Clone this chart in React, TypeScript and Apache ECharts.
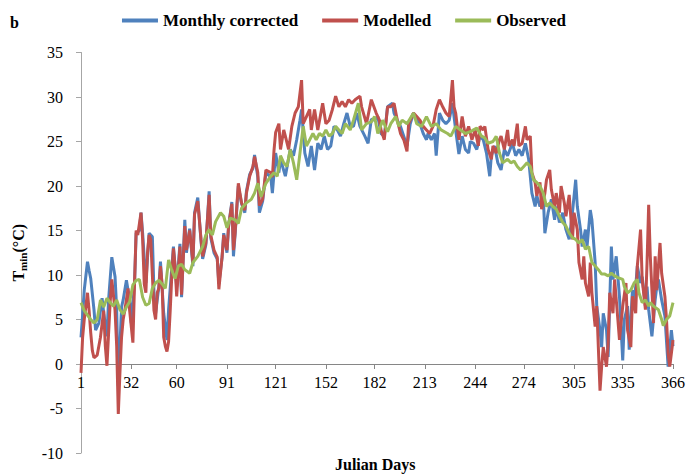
import React, { useEffect, useRef } from "react";
import * as echarts from "echarts";

const monthTicks = [1, 32, 60, 91, 121, 152, 182, 213, 244, 274, 305, 335, 366];
const yTicks = { min: -10, max: 35, step: 5 };
const seriesNames = ["Monthly corrected", "Modelled", "Observed"];
const seriesColors = ["#4F81BD", "#C0504D", "#9BBB59"];

const monthlyCorrected: [number, number][] = [
  [1, 3], [2, 5.5], [3, 8.3], [5, 11.5], [6, 10.5], [7, 9.6], [9, 6.1], [10, 3.8], [12, 4.6], [14, 7.4],
  [15, 5.7], [17, 3.1], [18, 7.2], [20, 12], [22, 9.8], [23, 6.1], [24, -2.5], [26, 6.4], [27, 7.2], [29, 9.4],
  [31, 7.2], [32, 4.6], [34, 9], [35, 14.7], [37, 15], [38, 17], [39, 14.7], [41, 9.1], [43, 14.7], [45, 14.3],
  [46, 8], [47, 5.7], [49, 8.7], [50, 11.5], [52, 5.7], [54, 2.7], [55, 6.1], [57, 10.9], [58, 13.2], [60, 8.7],
  [62, 13.5], [63, 7.5], [65, 16.2], [66, 12.5], [68, 15.2], [70, 11], [71, 17], [73, 18.7], [75, 13.8], [76, 11.8],
  [78, 13.4], [80, 19.4], [81, 14.2], [83, 12.5], [85, 11.8], [86, 9], [88, 12], [89, 14.7], [91, 12.5], [92, 15.5],
  [94, 18.2], [95, 12.1], [96, 14.5], [98, 20], [100, 18], [102, 17], [103, 19.4], [105, 21.3], [107, 22], [108, 23.5],
  [110, 21], [111, 17], [113, 18.3], [115, 21.5], [118, 21], [119, 19.2], [121, 23.7], [123, 21.5], [124, 23], [127, 21.1],
  [130, 24.1], [132, 23.4], [134, 25.2], [136, 27.4], [137, 28.6], [139, 23.7], [141, 22.2], [143, 24.5], [145, 21.8], [147, 24.8],
  [149, 24.1], [151, 25.6], [153, 24.1], [155, 24.5], [157, 26.7], [159, 26.3], [161, 25.6], [163, 27], [165, 28.2], [167, 26.7],
  [169, 26.7], [171, 28.2], [173, 26.7], [176, 25.6], [178, 24.8], [180, 27.5], [182, 27.4], [184, 27.8], [186, 25.9], [188, 25.6],
  [190, 28.9], [193, 29.3], [194, 28.2], [196, 27.4], [198, 26.7], [200, 25.6], [202, 24.5], [204, 27], [206, 28.2], [208, 27.4],
  [210, 27], [212, 25.9], [214, 25.2], [215, 25.9], [217, 25.2], [219, 25.9], [220, 23.4], [222, 28.2], [224, 27.4], [226, 27],
  [228, 27.4], [230, 29.3], [232, 26.3], [234, 23.6], [236, 25.6], [238, 24.1], [240, 23.7], [241, 25], [243, 24.8], [245, 24.1],
  [247, 25.6], [249, 25.2], [251, 23.7], [253, 21.1], [254, 23.4], [256, 24.5], [258, 22.6], [260, 21.8], [262, 24.1], [264, 23.4],
  [267, 24.8], [269, 23.4], [271, 24.1], [273, 23.4], [275, 24.8], [277, 23], [279, 19.2], [281, 17.7], [282, 18.9], [284, 17.7],
  [286, 18.9], [287, 14.7], [289, 17], [291, 18.5], [293, 16.2], [294, 17.7], [296, 15.9], [298, 17], [300, 15.1], [302, 14],
  [303, 15.5], [304, 17], [306, 20.7], [307, 17.7], [309, 15.1], [310, 13.2], [312, 15.1], [313, 13.2], [315, 17.3], [316, 16.2],
  [318, 11.4], [319, 6.5], [321, 3.8], [322, 1.9], [323, 5.7], [325, 3.8], [326, 0.8], [328, 13.2], [329, 9.5], [331, 12.1],
  [333, 7.6], [335, 0.4], [336, 5], [338, 6.5], [339, 1.6], [341, 8.3], [342, 7.2], [343, 8.7], [344, 11], [346, 9.1],
  [347, 9.8], [349, 6.5], [350, 8.7], [351, 6.1], [353, 3.1], [355, 7.2], [356, 8.7], [357, 9.5], [359, 7.2], [361, 5.4],
  [363, -0.3], [365, 3.8], [366, 2],
];

const modelled: [number, number][] = [
  [1, -1], [2, 3], [3, 5], [5, 8], [6, 6], [7, 3.5], [8, 1.5], [9, 0.7], [11, 1], [13, 3],
  [15, 6], [16, 2], [17, -0.2], [19, 7], [20, 9.5], [22, 6], [23, 2], [24, -5.6], [25, -1], [26, 3],
  [27, 5], [28, 6], [30, 8.5], [31, 6], [33, 2.4], [34, 9], [35, 15], [36, 14.5], [38, 17], [39, 14],
  [40, 9], [41, 8], [42, 12.5], [43, 14.5], [44, 14], [45, 10], [46, 6], [47, 5], [48, 8], [49, 8.5],
  [50, 11], [51, 9], [52, 3], [53, 2], [54, 1.4], [55, 2.5], [56, 6], [57, 10], [58, 13], [59, 11],
  [60, 7.6], [62, 13.2], [63, 7.8], [65, 15.5], [66, 12.8], [68, 15], [70, 11.4], [71, 16.8], [73, 18.3], [75, 14],
  [76, 12.1], [78, 13.6], [80, 19], [81, 14.5], [83, 12.8], [85, 12], [86, 8.4], [88, 12.1], [89, 14.5], [91, 12.8],
  [92, 15.5], [94, 18], [95, 12.8], [96, 14.7], [98, 20.3], [100, 18.1], [102, 17.3], [103, 19.2], [105, 21.1], [107, 22.2],
  [108, 23.3], [110, 21.5], [111, 17.8], [113, 18.5], [115, 21.8], [118, 21.5], [119, 21], [120, 24], [121, 26], [123, 27],
  [124, 24.1], [126, 26.3], [127, 25.6], [129, 24.1], [131, 26.7], [133, 28.2], [135, 28.9], [137, 31.9], [138, 27], [140, 27.8],
  [142, 28.6], [143, 26.3], [145, 28.6], [147, 26.3], [150, 29.3], [152, 27], [154, 27.4], [156, 28.6], [158, 30.1], [160, 28.9],
  [162, 29.5], [164, 28.9], [166, 29.7], [168, 29.3], [170, 29.7], [173, 30.1], [174, 28.9], [177, 27], [180, 29.7], [183, 28.2],
  [185, 27.4], [186, 26.3], [188, 25.2], [190, 28.9], [192, 28.9], [194, 29.3], [196, 27.4], [198, 25.9], [200, 25.2], [202, 23.9],
  [203, 27], [206, 28.2], [208, 27.8], [210, 27.4], [212, 26.7], [214, 26.3], [216, 25.9], [218, 26.7], [220, 28.6], [222, 29.7],
  [224, 28.9], [226, 28.2], [228, 27.8], [230, 31.9], [231, 28.9], [232, 28.2], [234, 25.2], [236, 27.8], [238, 25.6], [240, 26.7],
  [242, 25.2], [244, 26.3], [246, 24.5], [247, 26.7], [249, 26.3], [250, 26.7], [252, 24.1], [254, 23], [255, 24.5], [257, 23.7],
  [259, 25.2], [260, 25.6], [262, 24.1], [264, 26.3], [265, 24.5], [267, 25.2], [268, 24.5], [270, 27], [271, 24.5], [273, 24.8],
  [275, 26.7], [276, 25.2], [278, 25.6], [279, 21.5], [281, 20.4], [282, 18.9], [284, 20.4], [285, 17.4], [287, 19.2], [288, 20.7],
  [290, 21.8], [291, 19.6], [293, 17.7], [294, 19.2], [296, 17], [297, 20], [299, 18.1], [300, 16.6], [302, 19], [304, 14],
  [305, 17], [307, 15.1], [308, 11.4], [310, 9.5], [311, 12.1], [312, 9.1], [314, 7.6], [315, 11.4], [316, 8], [318, 4.2],
  [319, 6.5], [321, -3], [322, -0.3], [323, 1.9], [325, -0.3], [326, 2.3], [327, 8], [329, 5.7], [330, 9.5], [332, 5],
  [333, 2.7], [335, 6.5], [337, 9.1], [338, 3.8], [340, 1.9], [341, 7.6], [343, 5.7], [344, 11], [346, 15.1], [347, 9.5],
  [349, 6.1], [350, 11.4], [351, 17.9], [352, 12.1], [353, 8.3], [354, 4.6], [355, 12.1], [356, 8.3], [358, 13.6], [359, 10.2],
  [361, 7.6], [362, 5], [363, 1.2], [364, -0.3], [366, 2.7],
];

const observed: [number, number][] = [
  [1, 6.9], [3, 6], [5, 5.5], [7, 5], [9, 4.6], [11, 5], [13, 7.2], [15, 6.4], [17, 7.4], [19, 6.9],
  [21, 6.5], [23, 7.2], [25, 6.1], [27, 5.6], [29, 6.4], [31, 7], [33, 8.9], [35, 9.4], [37, 9.5], [39, 7.5],
  [41, 6.6], [43, 6.8], [45, 8.5], [47, 9.1], [49, 9.4], [51, 9], [53, 8.5], [55, 11.7], [57, 10.5], [59, 9.6],
  [61, 11], [63, 11.2], [65, 10.6], [68, 10.2], [70, 11.4], [73, 12.1], [76, 13.2], [78, 14.5], [80, 15.1], [82, 14.5],
  [84, 16], [87, 17], [89, 16.6], [91, 15.3], [93, 16.4], [96, 16.2], [98, 15.8], [100, 17.5], [103, 18.1], [106, 18.5],
  [108, 19.2], [110, 20.3], [112, 18.8], [115, 20.3], [118, 21.1], [120, 21.5], [122, 21.1], [124, 23.4], [126, 22.6], [128, 22.2],
  [130, 24.1], [132, 22.6], [134, 20.7], [136, 23.7], [138, 26.7], [140, 24.5], [142, 25.2], [144, 25.9], [146, 25.2], [148, 25.9],
  [150, 25.6], [152, 26.3], [154, 25.6], [156, 25.9], [158, 26.7], [160, 26.3], [162, 25.9], [164, 27], [167, 26.3], [169, 27.4],
  [172, 29.3], [174, 26.3], [177, 27], [180, 27.2], [182, 27.8], [184, 25.9], [187, 27.4], [190, 26.1], [192, 27], [195, 27.8],
  [197, 26.7], [199, 27.4], [202, 27], [206, 28.2], [208, 27], [211, 26.7], [214, 27.8], [217, 26.7], [220, 27], [223, 26.3],
  [227, 25.9], [229, 25.6], [232, 26.7], [235, 26.3], [238, 25.9], [241, 26.1], [243, 26.3], [245, 26.5], [248, 25.6], [250, 25.4],
  [252, 24.8], [255, 25], [257, 25.6], [259, 23.7], [261, 22.6], [264, 23], [266, 22.6], [268, 22.8], [270, 22.2], [272, 21.8],
  [274, 22.2], [276, 22.6], [278, 22.2], [280, 20.7], [282, 20.4], [284, 20], [286, 19.2], [288, 17.7], [290, 18.1], [292, 17.7],
  [294, 17.4], [296, 16.6], [298, 15.9], [300, 15.5], [302, 14.7], [304, 14.2], [306, 14], [308, 13.6], [310, 14], [312, 12.9],
  [314, 13.2], [316, 11.4], [318, 11], [320, 10.6], [322, 10.1], [324, 10.1], [326, 9.9], [328, 10.2], [330, 9.9], [332, 9.7],
  [335, 9.5], [336, 8.7], [338, 8], [340, 8.3], [342, 9.1], [344, 9.5], [345, 8], [347, 6.9], [349, 7.2], [351, 6.5],
  [352, 6.9], [354, 6.5], [357, 6.1], [359, 5], [360, 4.3], [362, 5], [364, 5.4], [366, 6.9],
];

const FONT = "'Times New Roman', 'Liberation Serif', serif";

const GRID_TOP = 52.5;
const GRID_BOTTOM = 21;
const CHART_H = 474;
const plotH = CHART_H - GRID_TOP - GRID_BOTTOM;
// distance from the bottom of the plot (y = min) up to y = 0
const zeroOffset = (plotH * (0 - yTicks.min)) / (yTicks.max - yTicks.min);

export default function App() {
  const ref = useRef<HTMLDivElement>(null);
  useEffect(() => {
    if (!ref.current) return;
    const chart = echarts.init(ref.current, undefined, { renderer: "svg" });
    const dataSets = [monthlyCorrected, modelled, observed];
    chart.setOption({
      animation: false,
      backgroundColor: "#ffffff",
      textStyle: { fontFamily: FONT },
      legend: {
        top: 7,
        left: "center",
        itemWidth: 36,
        itemHeight: 4,
        itemGap: 24,
        icon: "rect",
        textStyle: { fontFamily: FONT, fontWeight: "bold", fontSize: 17, color: "#000" },
        data: seriesNames,
      },
      grid: { left: 77, right: 11, top: GRID_TOP, bottom: GRID_BOTTOM, containLabel: false },
      xAxis: {
        type: "value",
        min: 1,
        max: 366,
        position: "bottom",
        offset: -zeroOffset,
        axisLine: { onZero: false, lineStyle: { color: "#868686", width: 1 } },
        axisTick: { show: true, length: 5, customValues: monthTicks, lineStyle: { color: "#868686" } },
        axisLabel: {
          customValues: monthTicks,
          fontFamily: FONT,
          fontSize: 16,
          color: "#000",
          margin: 10,
          showMinLabel: true,
          showMaxLabel: true,
        },
        splitLine: { show: false },
      },
      yAxis: {
        type: "value",
        min: yTicks.min,
        max: yTicks.max,
        interval: yTicks.step,
        axisLine: { show: true, onZero: false, lineStyle: { color: "#a6a6a6" } },
        axisTick: { show: true, length: 5, lineStyle: { color: "#a6a6a6" } },
        axisLabel: { fontFamily: FONT, fontSize: 16, color: "#000", margin: 18 },
        splitLine: { show: false },
        name: "{a|T}{s|min}{a|(°C)}",
        nameLocation: "middle",
        nameGap: 52,
        nameTextStyle: {
          rich: {
            a: { fontFamily: FONT, fontWeight: "bold", fontSize: 16, color: "#000", lineHeight: 22 },
            s: { fontFamily: FONT, fontWeight: "bold", fontSize: 11, color: "#000", lineHeight: 22, padding: [9, 0, 0, 0] },
          },
        },
      },
      graphic: [
        { type: "text", left: 10, top: 14, style: { text: "b", font: `bold 16px ${FONT}`, fill: "#000" } },
        { type: "text", left: 335, top: 456, style: { text: "Julian Days", font: `bold 16px ${FONT}`, fill: "#000" } },
      ],
      series: dataSets.map((d, i) => ({
        name: seriesNames[i],
        type: "line",
        data: d,
        showSymbol: false,
        symbol: "none",
        lineStyle: { width: 3, color: seriesColors[i] },
        itemStyle: { color: seriesColors[i] },
        z: 2 + i,
      })),
    });
    return () => chart.dispose();
  }, []);
  return (
    <div
      ref={ref}
      style={{ position: "fixed", left: 0, top: 0, width: 688, height: 474, background: "#fff" }}
    />
  );
}
